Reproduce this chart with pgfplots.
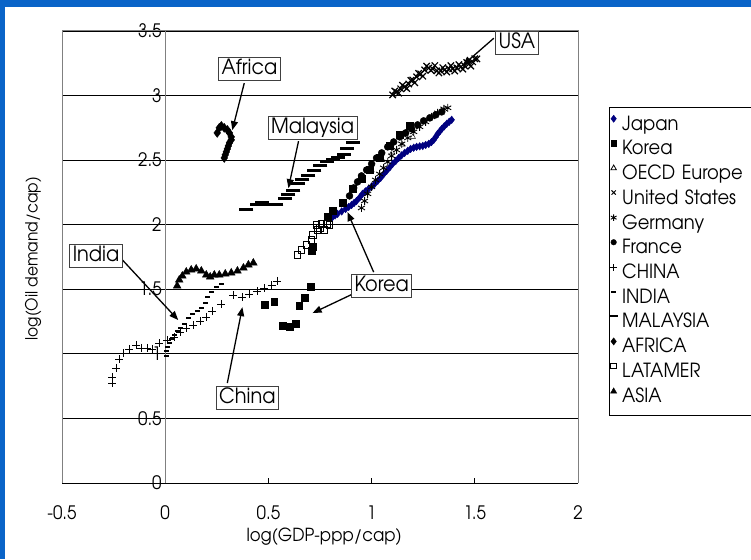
\documentclass[border=0pt]{standalone}
\usepackage{fontspec}
\setmainfont{texgyreadventor}[Extension=.otf, UprightFont=*-regular, FakeStretch=0.92]
\usepackage{pgfplots}
\pgfplotsset{compat=1.18}
\usetikzlibrary{arrows.meta}
\definecolor{slideBlue}{HTML}{0A64C8}
\definecolor{jpNavy}{HTML}{000080}
\definecolor{frameGray}{HTML}{808080}
\pgfplotsset{lgd/.style={only marks,
  legend image code/.code={\draw[mark repeat=2,mark phase=2,##1] plot coordinates {(0pt,6.5pt)(4pt,6.5pt)(8pt,6.5pt)};}}}

\begin{document}
\begin{tikzpicture}[x=1pt,y=1pt]
\clip (0,0) rectangle (751,559);
\fill[slideBlue] (0,0) rectangle (751,559);
\fill[white] (5,0) rectangle (751,552);
\begin{axis}[at={(62pt,76pt)},anchor=south west,scale only axis,
width=516pt,height=452pt,xmin=-0.5,xmax=2,ymin=0,ymax=3.5,clip=false,
axis x line=bottom,axis y line=middle,axis line style={-},
x axis line style={black,line width=0.9pt},
y axis line style={frameGray,line width=1pt},
hide obscured x ticks=false,hide obscured y ticks=false,
xtick={-0.5,0,0.5,1,1.5,2},xticklabels={-0.5,0,0.5,1,1.5,2},
ytick={0,0.5,1,1.5,2,2.5,3,3.5},yticklabels={0,0.5,1,1.5,2,2.5,3,3.5},
tick align=inside,major tick length=5pt,tick style={black,line width=0.8pt},
tick label style={font=\fontsize{18.5}{18.5}\selectfont},
xticklabel style={yshift=-19pt},
ymajorgrids,major grid style={black,line width=0.9pt},
every axis x label/.style={at={(axis description cs:0.508,-0.119)},anchor=center,
  font=\fontsize{18}{18}\selectfont},
every axis y label/.style={at={(axis description cs:-0.056,0.496)},anchor=center,rotate=90,
  font=\fontsize{16.8}{16.8}\selectfont},
xlabel={log(GDP-ppp/cap)},ylabel={log(Oil demand/cap)},
legend cell align=left,
legend style={at={(axis description cs:1.060,0.832)},anchor=north west,
  draw=black,fill=white,inner xsep=0.5pt,inner ysep=8pt,row sep=6.3pt,column sep=4.5pt,
  font=\fontsize{19.5}{19.5}\selectfont,
  nodes={inner sep=0pt,text height=14pt,text depth=4pt},
  /tikz/every even column/.append style={text width=135pt}},
]
% Japan
\addplot[only marks,mark=diamond*,mark size=3.8pt,color=jpNavy,forget plot] coordinates {
(0.811,2.060)(0.823,2.072)(0.835,2.084)(0.855,2.103)(0.874,2.122)(0.889,2.138)
(0.903,2.153)(0.915,2.168)(0.927,2.184)(0.942,2.211)(0.956,2.239)(0.970,2.258)
(0.985,2.277)(1.000,2.296)(1.015,2.316)(1.030,2.340)(1.044,2.363)(1.058,2.390)
(1.073,2.417)(1.088,2.444)(1.102,2.471)(1.117,2.494)(1.131,2.517)(1.145,2.537)
(1.160,2.556)(1.175,2.572)(1.189,2.587)(1.204,2.596)(1.218,2.603)(1.233,2.607)
(1.248,2.610)(1.262,2.618)(1.277,2.626)(1.290,2.640)(1.301,2.657)(1.311,2.680)
(1.320,2.703)(1.330,2.722)(1.340,2.742)(1.352,2.762)(1.364,2.781)(1.376,2.797)
(1.388,2.812)};
% Korea
\addplot[only marks,mark=square*,mark size=3.3pt,black,forget plot] coordinates {
(0.481,1.379)(0.529,1.402)(0.568,1.216)(0.602,1.208)(0.631,1.232)(0.650,1.371)
(0.675,1.433)(0.704,1.518)
(0.709,1.797)(0.714,1.830)(0.786,2.060)(0.811,2.107)(0.859,2.169)(0.908,2.277)
(0.951,2.355)(0.990,2.424)(1.039,2.517)(1.087,2.610)(1.136,2.696)(1.184,2.765)};
% OECD Europe
\addplot[only marks,mark=triangle,mark size=3pt,black,forget plot] coordinates {
(0.950,2.350)(1.000,2.420)(1.050,2.500)(1.100,2.560)(1.150,2.620)(1.200,2.680)};
% United States
\addplot[only marks,mark=x,mark size=4.5pt,black,mark options={line width=1.2pt},forget plot] coordinates {
(1.102,3.005)(1.121,3.028)(1.141,3.052)(1.160,3.067)(1.180,3.090)(1.199,3.121)
(1.218,3.145)(1.238,3.168)(1.257,3.199)(1.277,3.214)(1.296,3.207)(1.316,3.191)
(1.335,3.191)(1.354,3.199)(1.374,3.207)(1.393,3.207)(1.413,3.214)(1.432,3.222)
(1.451,3.230)(1.471,3.245)(1.490,3.261)(1.510,3.284)
(1.112,3.035)(1.131,3.018)(1.150,3.080)(1.170,3.055)(1.190,3.118)(1.209,3.100)
(1.228,3.172)(1.248,3.150)(1.267,3.228)(1.287,3.195)(1.306,3.232)(1.326,3.175)
(1.345,3.216)(1.364,3.183)(1.384,3.232)(1.403,3.190)(1.423,3.240)(1.442,3.205)
(1.461,3.256)(1.481,3.228)(1.500,3.285)};
% Germany
\addplot[only marks,mark=asterisk,mark size=4pt,black,mark options={line width=0.9pt},forget plot] coordinates {
(0.951,2.130)(0.966,2.184)(0.981,2.239)(1.000,2.293)(1.019,2.347)(1.039,2.393)
(1.058,2.440)(1.078,2.486)(1.097,2.533)(1.121,2.579)(1.146,2.626)(1.175,2.672)
(1.204,2.719)(1.233,2.758)(1.262,2.796)(1.291,2.835)(1.320,2.866)(1.350,2.897)
(1.369,2.905)};
% France
\addplot[only marks,mark=*,mark size=3.5pt,black,forget plot] coordinates {
(0.893,2.223)(0.913,2.285)(0.932,2.332)(0.951,2.378)(0.976,2.424)(1.000,2.471)
(1.024,2.517)(1.049,2.556)(1.078,2.603)(1.107,2.641)(1.136,2.680)(1.165,2.711)
(1.194,2.742)(1.223,2.773)(1.252,2.804)(1.282,2.827)(1.311,2.851)(1.340,2.874)};
% CHINA
\addplot[only marks,mark=+,mark size=4pt,black,mark options={line width=0.7pt},forget plot] coordinates {
(-0.257,0.775)(-0.257,0.821)(-0.238,0.891)(-0.223,0.960)(-0.204,1.007)(-0.175,1.038)
(-0.141,1.069)(-0.117,1.046)(-0.087,1.046)(-0.063,1.038)(-0.029,1.084)(0.010,1.108)
(0.044,1.131)(0.073,1.170)(0.102,1.201)(0.136,1.224)(0.170,1.255)(0.199,1.286)
(0.228,1.332)(0.272,1.387)(0.330,1.456)(0.374,1.441)(0.408,1.464)(0.447,1.487)
(0.481,1.510)(0.515,1.534)(0.544,1.565)};
% INDIA
\addplot[only marks,mark=-,mark size=2.5pt,black,mark options={line width=2.5pt},forget plot] coordinates {
(0.005,0.984)(0.005,1.022)(0.010,1.053)(0.019,1.084)(0.029,1.115)(0.044,1.146)
(0.058,1.177)(0.073,1.201)(0.092,1.232)(0.112,1.278)(0.131,1.309)(0.155,1.332)
(0.175,1.356)(0.194,1.394)(0.204,1.441)(0.223,1.479)(0.248,1.518)(0.272,1.541)};
% MALAYSIA
\addplot[only marks,mark=-,mark size=7pt,black,mark options={line width=3pt},forget plot] coordinates {
(0.393,2.115)(0.447,2.153)(0.471,2.169)(0.505,2.153)(0.539,2.153)(0.578,2.200)
(0.597,2.231)(0.621,2.262)(0.641,2.316)(0.665,2.347)(0.694,2.378)(0.723,2.417)
(0.752,2.455)(0.782,2.486)(0.811,2.502)(0.835,2.517)(0.864,2.541)(0.879,2.587)
(0.908,2.634)};
% AFRICA
\addplot[only marks,mark=diamond*,mark size=4.5pt,black,forget plot] coordinates {
(0.252,2.711)(0.262,2.750)(0.272,2.765)(0.286,2.750)(0.301,2.734)(0.311,2.711)
(0.320,2.680)(0.320,2.657)(0.311,2.634)(0.306,2.610)(0.301,2.587)(0.296,2.564)
(0.291,2.541)(0.286,2.517)};
% LATAMER
\addplot[only marks,mark=square,mark size=3.3pt,black,mark options={fill=white,line width=0.7pt},forget plot] coordinates {
(0.641,1.766)(0.660,1.805)(0.684,1.844)(0.709,1.882)(0.714,1.921)(0.738,1.960)
(0.733,1.998)(0.757,2.006)(0.782,2.006)(0.796,1.998)(0.748,1.975)(0.772,1.960)};
% ASIA
\addplot[only marks,mark=triangle*,mark size=4.5pt,black,forget plot] coordinates {
(0.058,1.526)(0.068,1.572)(0.083,1.603)(0.102,1.634)(0.126,1.650)(0.150,1.658)
(0.175,1.642)(0.199,1.611)(0.218,1.596)(0.238,1.611)(0.262,1.611)(0.291,1.619)
(0.320,1.627)(0.350,1.642)(0.379,1.665)(0.403,1.689)(0.427,1.704)};

\addlegendimage{lgd,mark=diamond*,mark size=3.6pt,color=jpNavy}
\addlegendentry{Japan}
\addlegendimage{lgd,mark=square*,mark size=2.7pt,black}
\addlegendentry{Korea}
\addlegendimage{lgd,mark=triangle,mark size=3.2pt,black,mark options={line width=0.8pt}}
\addlegendentry{OECD Europe}
\addlegendimage{lgd,mark=x,mark size=3pt,black,mark options={line width=0.9pt}}
\addlegendentry{United States}
\addlegendimage{lgd,mark=asterisk,mark size=3.3pt,black,mark options={line width=0.9pt}}
\addlegendentry{Germany}
\addlegendimage{lgd,mark=*,mark size=2.8pt,black}
\addlegendentry{France}
\addlegendimage{lgd,mark=+,mark size=3.4pt,black,mark options={line width=0.8pt}}
\addlegendentry{CHINA}
\addlegendimage{lgd,mark=-,mark size=2.2pt,black,mark options={line width=2.2pt}}
\addlegendentry{INDIA}
\addlegendimage{lgd,mark=-,mark size=4pt,black,mark options={line width=2.6pt}}
\addlegendentry{MALAYSIA}
\addlegendimage{lgd,mark=diamond*,mark size=3.6pt,black}
\addlegendentry{AFRICA}
\addlegendimage{lgd,mark=square,mark size=2.8pt,black,mark options={line width=0.8pt,fill=white}}
\addlegendentry{LATAMER}
\addlegendimage{lgd,mark=triangle*,mark size=3.6pt,black}
\addlegendentry{ASIA}

% plot-area frame (left, top, right)
\draw[frameGray,line width=1pt] (rel axis cs:0,0) -- (rel axis cs:0,1) -- (rel axis cs:1,1) -- (rel axis cs:1,0);

% annotations
\begin{scope}[line width=1.3pt,-{Triangle[length=9pt,width=7pt]}]
\draw (axis cs:0.383,3.096) -- (axis cs:0.325,2.732);
\draw (axis cs:0.646,2.647) -- (axis cs:0.597,2.283);
\draw (axis cs:1.592,3.444) -- (axis cs:1.442,3.235);
\draw (axis cs:-0.238,1.780) -- (axis cs:0.063,1.262);
\draw (axis cs:1.010,1.633) -- (axis cs:0.883,2.098);
\draw (axis cs:0.908,1.463) -- (axis cs:0.714,1.316);
\draw (axis cs:0.301,0.774) -- (axis cs:0.374,1.362);
\end{scope}
\tikzset{callout/.style={draw=black!75,fill=white,line width=0.8pt,inner xsep=3pt,
  inner ysep=2pt,font=\fontsize{21}{21}\selectfont,text height=15pt,text depth=4pt}}
\node[callout] at (axis cs:0.408,3.205) {Africa};
\node[callout] at (axis cs:0.714,2.748) {Malaysia};
\node[callout] at (axis cs:1.704,3.406) {USA};
\node[callout] at (axis cs:-0.335,1.757) {India};
\node[callout] at (axis cs:1.049,1.525) {Korea};
\node[callout] at (axis cs:0.398,0.658) {China};
\end{axis}
\end{tikzpicture}
\end{document}
